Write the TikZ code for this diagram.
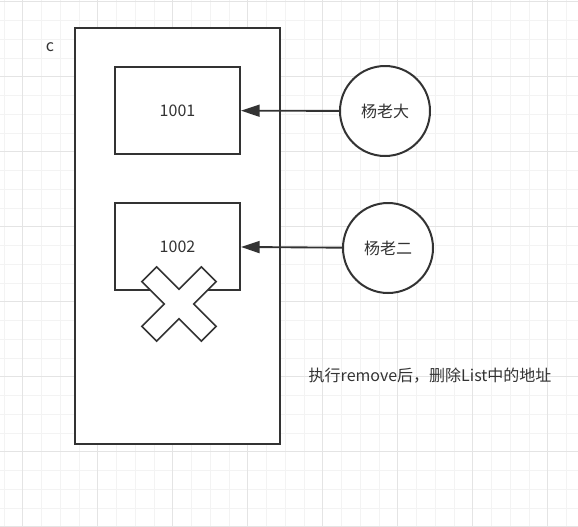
\documentclass[tikz,border=0pt]{standalone}
\usepackage{fontspec}
\setmainfont{Noto Sans CJK SC}
\usetikzlibrary{arrows.meta}

\definecolor{ink}{HTML}{333333}
\definecolor{gridminor}{HTML}{F3F3F3}
\definecolor{gridmajor}{HTML}{E4E4E4}

\tikzset{
	frame/.style = {draw = ink, line width = 1.5pt, fill = white},
	cell/.style = {frame, minimum width = 93.75pt, minimum height = 65.25pt, inner sep = 0pt},
	person/.style = {frame, circle, minimum size = 67.5pt, inner sep = 0pt},
	ptr/.style = {draw = ink, line width = 1.4pt, -{Triangle[length = 14pt, width = 9pt]}},
	txt/.style = {text = ink, font = \fontsize{12}{14}\selectfont}
}

\begin{document}
\begin{tikzpicture}[x = 0.75pt, y = -0.75pt]
	\useasboundingbox (0, 0) rectangle (578, 526);
	\fill[white] (0, 0) rectangle (578, 526);

	% background grid
	\foreach \i in {0, ..., 30} {
		\draw[gridminor, line width = 0.5pt] (3.95 + 18.75 * \i, 0) -- (3.95 + 18.75 * \i, 526);
		\draw[gridminor, line width = 0.5pt] (0, 1.7 + 18.75 * \i) -- (578, 1.7 + 18.75 * \i);
	}
	\foreach \i in {0, ..., 7} {
		\draw[gridmajor, line width = 0.6pt] (22.7 + 75 * \i, 0) -- (22.7 + 75 * \i, 526);
		\draw[gridmajor, line width = 0.6pt] (0, 1.7 + 75 * \i) -- (578, 1.7 + 75 * \i);
	}

	% the list c
	\node[frame, minimum width = 153.75pt, minimum height = 312pt, inner sep = 0pt] (list) at (177.5, 236) {};
	\node[txt] (name) at (50, 47) {c};

	\node[cell, txt] (box1) at (177.5, 110.5) {1001};
	\node[cell, txt] (box2) at (177.5, 246.5) {1002};

	% removed mark
	\draw[frame, line width = 1.2pt, rotate around = {45: (179, 304)}]
		(168.5, 262) -- (189.5, 262) -- (189.5, 293.5) -- (221, 293.5) -- (221, 314.5)
		-- (189.5, 314.5) -- (189.5, 346) -- (168.5, 346) -- (168.5, 314.5) -- (137, 314.5)
		-- (137, 293.5) -- (168.5, 293.5) -- cycle;

	\node[person, txt] (yang1) at (385, 111) {杨老大};
	\node[person, txt] (yang2) at (388, 248) {杨老二};

	\draw[ptr] (yang1) -- (box1);
	\draw[ptr] (yang2) -- (box2);

	\node[txt, anchor = west] (note) at (304, 376) {执行remove后，删除List中的地址};
\end{tikzpicture}
\end{document}
